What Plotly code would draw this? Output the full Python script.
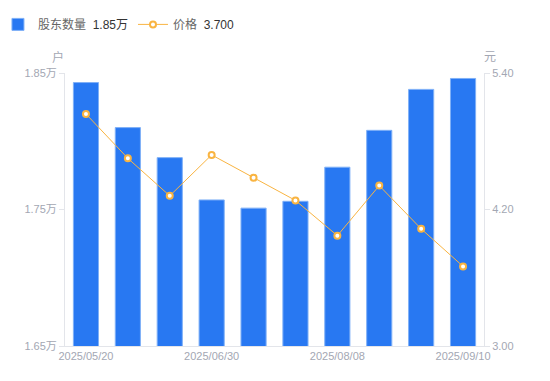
import plotly.graph_objects as go

dates = ["2025/05/20", "2025/05/31", "2025/06/10", "2025/06/30", "2025/07/10",
         "2025/07/20", "2025/08/08", "2025/08/20", "2025/08/31", "2025/09/10"]
holders_wan = [1.843, 1.810, 1.788, 1.757, 1.751, 1.756, 1.781, 1.808, 1.838, 1.846]
price = [5.04, 4.65, 4.32, 4.68, 4.48, 4.28, 3.97, 4.41, 4.03, 3.70]
x_tick_labels = ["2025/05/20", "2025/06/30", "2025/08/08", "2025/09/10"]
left_ticks = [1.65, 1.75, 1.85]
right_ticks = [3.00, 4.20, 5.40]

FONT = "Liberation Sans, Arial, Noto Sans CJK SC, sans-serif"
GRAY = "#a3a7b3"
AXIS = "#e3e5ea"

fig = go.Figure()
fig.add_trace(go.Bar(
    x=dates, y=holders_wan,
    name="股东数量  <span style='color:#333333'>1.85万</span>",
    marker=dict(color="#2878f2", line=dict(color="#7fb0f7", width=1)),
    yaxis="y",
))
fig.add_trace(go.Scatter(
    x=dates, y=price,
    name="价格  <span style='color:#333333'>3.700</span>",
    mode="lines+markers",
    line=dict(color="#f9b441", width=1),
    marker=dict(symbol="circle", size=6, color="#ffffff",
                line=dict(color="#f9b441", width=2)),
    yaxis="y2",
))

fig.update_layout(
    width=550, height=381,
    margin=dict(l=57, r=74, t=65, b=43, autoexpand=False),
    paper_bgcolor="#ffffff", plot_bgcolor="#ffffff",
    font=dict(family=FONT, size=11, color=GRAY),
    bargap=0.4,
    showlegend=True,
    legend=dict(orientation="h", xref="paper", yref="container",
                x=-0.16, y=0.995, xanchor="left", yanchor="top",
                font=dict(size=12, color="#666666", family=FONT),
                itemwidth=30, tracegroupgap=0),
    xaxis=dict(type="category", range=[-0.5, len(dates) - 0.5],
               tickmode="array", tickvals=x_tick_labels,
               ticktext=x_tick_labels, showgrid=False, showline=True,
               linecolor=AXIS, linewidth=1, ticks="", zeroline=False,
               automargin=False, tickfont=dict(size=11, color=GRAY)),
    yaxis=dict(range=[1.65, 1.85], tickmode="array", tickvals=left_ticks,
               ticktext=[f"{v:.2f}万" for v in left_ticks],
               showgrid=False, showline=True, linecolor=AXIS, linewidth=1,
               ticks="outside", ticklen=5, tickcolor=AXIS, zeroline=False,
               automargin=False, tickfont=dict(size=11, color=GRAY)),
    yaxis2=dict(range=[3.0, 5.4], overlaying="y", side="right",
                tickmode="array", tickvals=right_ticks,
                ticktext=[f"{v:.2f}" for v in right_ticks],
                showgrid=False, showline=True, linecolor=AXIS, linewidth=1,
                ticks="outside", ticklen=5, tickcolor=AXIS, zeroline=False,
                automargin=False, tickfont=dict(size=11, color=GRAY)),
    annotations=[
        dict(text="户", xref="paper", yref="paper", x=-0.0167, y=1.0,
             xanchor="center", yanchor="middle",
             yshift=16, showarrow=False, font=dict(size=12, color=GRAY)),
        dict(text="元", xref="paper", yref="paper", x=1.0143, y=1.0,
             xanchor="center", yanchor="middle",
             yshift=16, showarrow=False, font=dict(size=12, color=GRAY)),
    ],
)

fig.write_html("out.html")
